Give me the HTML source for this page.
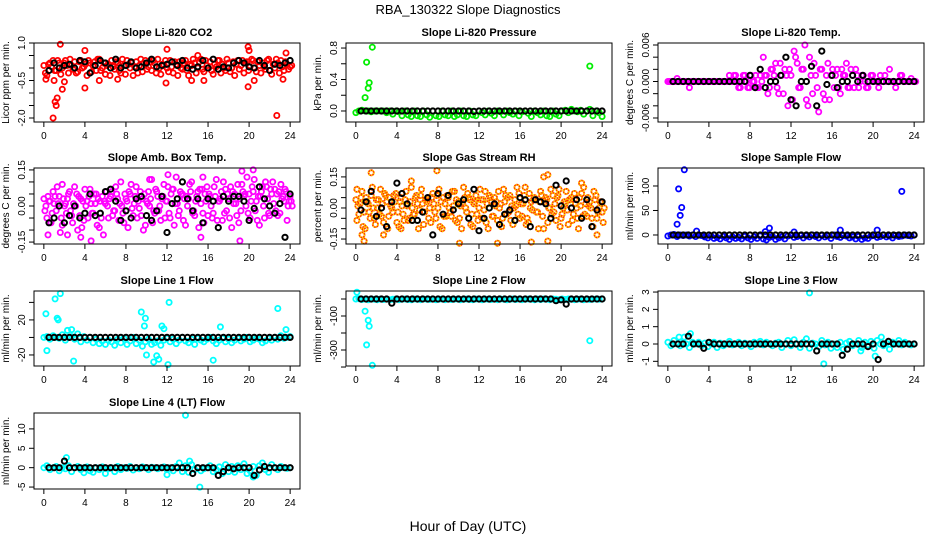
<!DOCTYPE html>
<html><head><meta charset="utf-8"><style>
html,body{margin:0;padding:0;background:#fff;}
svg text{font-family:"Liberation Sans",Arial,sans-serif;}
</style></head><body>
<svg id="chart" width="936" height="540" viewBox="0 0 936 540" xmlns="http://www.w3.org/2000/svg">
<text x="468" y="14" font-size="13" text-anchor="middle">RBA_130322  Slope Diagnostics</text>
<text x="468" y="531" font-size="14" text-anchor="middle">Hour of Day (UTC)</text>
</svg>
<script>
const xTicks=[0,4,8,12,16,20,24];
const co2Red=[0.1,-0.3,0.2,0.3,-0.1,0.2,0.0,0.3,-0.2,0.1,0.25,-0.15,0.3,0.05,-0.3,0.2,0.1,-0.1,0.35,0.0,-0.25,0.15,0.3,-0.05,0.2,-0.2,0.1,0.3,0.0,-0.3,0.25,0.1,-0.15,0.3,0.05,-0.1,0.2,0.35,-0.25,0.1,0.0,0.3,-0.2,0.15,0.25,-0.05,0.3,-0.3,0.1,0.2,0.0,0.35,-0.15,0.1,0.25,-0.25,0.05,0.3,0.15,-0.1,0.2,0.0,-0.3,0.3,0.1,-0.2,0.25,0.05,0.3,-0.15,0.1,0.2,-0.05,0.35,-0.25,0.0,0.2,0.3,-0.1,0.15,0.05];
const co2Red2=[-0.2,0.15,0.05,-0.1,0.3,-0.25,0.2,0.1,0.35,-0.05,-0.2,0.25,0.0,0.15,0.3,-0.15,0.25,0.35,-0.1,0.2,0.1,-0.3,0.05,0.25,-0.1,0.35,-0.25,0.15,0.2,0.05,-0.2,0.35,0.2,-0.05,0.25,0.3,-0.2,0.0,0.15,0.3,-0.15,0.05,0.25,-0.3,0.0,0.2,-0.1,0.15,0.35,-0.2,0.25,-0.05,0.3,0.0,-0.1,0.15,0.3,-0.2,0.0,0.35,-0.15,0.25,0.15,-0.05,0.3,0.2,-0.1,0.35,0.0,0.25,-0.2,0.05,0.3,-0.1,0.15,0.35,-0.2,0.05,0.25,-0.05,0.1];
const co2OutX=[0.9,1.1,1.2,1.3,1.6,1.8,0.2,1.0,2.0,4.0,4.0,12,11.9,14.4,15.0,15.6,19.9,20.0,19.9,20.5,22.7,23.3,23.6,7.2,5.4];
const co2OutY=[-2.0,-1.35,-1.5,-1.2,0.95,-0.85,-0.45,-0.5,-0.55,0.7,-0.8,0.75,-0.6,-0.5,0.5,-0.5,0.85,0.7,-0.75,-0.5,-1.9,-0.45,0.6,-0.45,-0.5];
const co2Black=[-0.1,0.2,0.0,0.1,0.15,0.0,0.3,0.25,-0.2,0.1,0.3,0.2,0.0,0.35,0.0,0.1,0.25,0.0,0.05,0.2,0.35,0.05,0.1,0.15,0.25,0.1,0.3,0.0,-0.05,0.05,0.3,0.0,0.35,-0.05,0.05,0.0,0.2,0.3,0.2,0.05,0.0,0.3,0.1,-0.1,0.15,0.1,0.2,0.3];
const presGreen=[-0.02,0.0,0.01,0.0,0.0,-0.01,0.0,0.0,0.0,0.0,-0.02,0.0,-0.04,0.0,-0.01,-0.06,0.0,-0.05,-0.07,0.0,-0.06,-0.07,0.0,-0.05,-0.08,0.0,-0.06,-0.07,0.0,-0.05,-0.06,0.0,-0.07,-0.05,0.0,-0.06,-0.07,0.0,-0.05,-0.06,0.0,-0.02,-0.05,0.0,-0.03,-0.06,0.0,-0.01,-0.05,0.0,-0.02,-0.04,0.0,-0.06,-0.01,0.0,-0.03,-0.07,0.0,-0.02,-0.05,0.0,-0.06,-0.07,0.0,-0.04,-0.06,0.0,0.01,-0.02,0.02,0.0,-0.01,0.01,-0.04,0.0,0.02,-0.06,0.0,-0.02,-0.07];
const presOutX=[0.9,1.05,1.2,1.3,1.6,22.8];
const presOutY=[0.17,0.62,0.29,0.36,0.81,0.57];
const presBlack=[0,0,0,0,0,0,0,0,0,0,0,0,0,0,0,0,0,0,0,0,0,0,-0.005,0,0,0,0,0,0,0,0,0,0,0,0,0,0,0,0,0,0,0,0,0,0,0,0,0];
const tempMag=[0,0,0,0.0005,0,0,0,-0.001,0,0,0,0,0,0,0,0,0,0,0,0,0.001,0,0.001,-0.001,0,0.001,-0.001,0.001,0,-0.001,0.001,0.004,0.001,-0.001,0.002,0.003,-0.002,0.001,0.002,-0.004,0.001,0.005,0.003,-0.001,0.002,-0.003,0.004,-0.002,0.001,-0.005,0.002,-0.003,0.003,0.001,-0.001,0.002,-0.002,0.001,0.003,-0.001,0.001,0.002,-0.001,0.001,0,-0.001,0.001,0,0,0.001,0,0,0.002,0,-0.001,0,0.001,0,0,0.0005,0];
const tempMag2=[0,0,0,0,0,0,0,0,0,0,0,0,0,0,0,0,0,0,0,0,0,0.001,0,-0.001,0.001,0,-0.001,0,0.001,-0.001,0,0.001,-0.002,0.002,0.001,-0.001,0.003,-0.002,0.001,0.002,-0.003,0.004,-0.001,0.002,0.006,-0.004,0.001,0.003,-0.001,0.002,-0.002,0.001,-0.003,0.002,0.001,-0.001,0.002,0.001,-0.001,0.002,-0.001,0.001,0,0.001,-0.001,0,0.001,0,-0.001,0,0.001,0,0,0,0,0.001,0,0,0,0,0];
const tempBlack=[0,0,0,0,0,0,0,0,0,0,0,0,0,0,0,0.001,-0.001,0.002,-0.001,0,0,0.001,0.004,-0.003,-0.004,0,0,0.0025,-0.004,0.005,-0.0005,0.001,-0.001,0,0,0.001,0,0.001,0,0,0,0,0,0,0,0,0,0];
const ambA=[0.03,-0.05,0.02,0.06,-0.02,0.04,-0.08,0.01,0.05,-0.04,0.08,-0.1,0.03,-0.06,0.02,0.07,-0.03,0.05,-0.09,0.04,0.01,-0.05,0.06,-0.02,0.03,0.1,-0.07,0.02,0.05,-0.04,0.08,-0.01,0.03,-0.08,0.06,0.11,-0.03,0.04,-0.06,0.09,0.02,-0.05,0.07,0.12,-0.02,0.05,-0.08,0.03,0.1,-0.04,0.06,0.01,-0.07,0.08,0.04,-0.03,0.11,0.02,-0.06,0.07,0.03,-0.09,0.05,0.09,-0.02,0.04,0.12,-0.05,0.06,0.02,-0.08,0.08,0.1,-0.03,0.05,0.07,-0.04,0.09,0.02,-0.06,0.04];
const ambB=[-0.02,0.04,-0.07,0.01,0.08,-0.11,0.03,-0.03,0.06,-0.07,0.0,0.04,-0.09,0.07,-0.05,0.01,0.05,-0.08,0.02,-0.12,0.06,0.03,-0.04,0.08,-0.06,0.0,0.05,-0.09,0.09,0.01,-0.05,0.06,-0.1,0.02,0.0,-0.07,0.07,-0.02,0.03,-0.05,0.08,0.05,-0.08,0.01,0.06,-0.06,0.04,0.09,-0.03,0.02,-0.09,0.07,0.05,-0.04,0.0,0.08,-0.06,0.03,0.1,-0.02,-0.05,0.06,0.01,-0.07,0.09,0.05,-0.03,0.02,0.11,-0.06,0.04,0.0,0.08,-0.04,0.1,-0.02,0.06,0.03,0.07,0.0,0.02];
const ambC=[0.0,0.02,-0.03,0.04,0.01,-0.05,0.0,0.03,-0.02,0.01,0.05,-0.04,0.02,0.0,0.04,-0.03,0.01,0.03,-0.05,0.02,0.0,0.04,-0.02,0.05,0.01,-0.03,0.03,0.06,-0.01,0.04,0.02,-0.04,0.05,0.01,0.03,-0.02,0.06,0.0,0.04,0.02,-0.03,0.07,0.01,-0.04,0.05,0.03,0.0,0.06,-0.02,0.04,0.07,-0.03,0.02,0.05,-0.05,0.04,0.02,0.06,-0.03,0.05,0.08,0.01,-0.04,0.03,0.06,0.0,0.05,0.08,-0.02,0.04,0.06,-0.05,0.03,0.07,0.01,0.05,-0.03,0.04,0.06,0.02,0.0];
const ambOutX=[0.4,2.3,3.6,4.6,15.3,19.1,19.3,20.4,15.5,12.1,1.8,10.3];
const ambOutY=[-0.12,-0.12,-0.13,-0.145,-0.13,-0.145,0.145,0.15,0.12,0.13,0.09,0.11];
const ambBlack=[-0.07,-0.05,0.0,-0.07,-0.04,0.0,-0.05,-0.03,0.05,-0.04,-0.03,0.06,0.07,0.02,-0.06,-0.02,-0.05,0.03,0.04,-0.04,-0.06,-0.02,0.04,-0.11,0.01,0.03,0.1,0.03,-0.02,0.03,-0.07,0.03,0.02,-0.09,0.04,0.02,0.04,0.04,0.02,-0.06,-0.01,0.08,0.03,0.0,-0.03,0.01,-0.13,0.05];
const rhA=[0.04,-0.03,0.08,-0.1,0.02,0.06,-0.05,0.0,0.09,-0.07,0.03,0.05,-0.02,0.07,-0.09,0.01,0.04,-0.06,0.1,-0.03,0.02,0.06,-0.08,0.03,0.0,0.07,-0.05,0.09,-0.1,0.02,0.05,-0.04,0.08,-0.07,0.01,0.1,-0.02,0.04,-0.09,0.06,0.0,-0.05,0.08,-0.1,0.03,0.05,-0.06,0.02,0.09,-0.03,0.06,-0.08,0.01,0.07,-0.04,0.1,-0.07,0.03,0.05,-0.02,0.08,-0.1,0.04,0.0,0.06,-0.06,0.09,-0.03,0.02,-0.08,0.05,0.07,-0.05,0.01,0.1,-0.04,0.03,-0.09,0.06,0.0,-0.02];
const rhB=[-0.06,0.02,-0.09,0.05,-0.02,0.1,-0.08,0.04,-0.04,0.07,-0.1,0.01,0.06,-0.07,0.03,-0.03,0.08,-0.05,0.0,0.05,-0.1,0.09,-0.02,0.04,-0.07,0.02,0.06,-0.09,0.05,-0.04,0.0,0.08,-0.06,0.03,-0.1,0.05,0.07,-0.08,0.02,-0.03,0.09,0.04,-0.07,0.06,-0.04,0.01,0.08,-0.09,0.03,0.05,-0.06,0.0,0.1,-0.05,0.02,-0.08,0.07,-0.01,0.04,-0.1,0.06,0.03,-0.07,0.09,-0.02,0.05,-0.09,0.0,0.08,0.04,-0.06,0.02,-0.1,0.07,-0.03,0.05,0.0,0.08,-0.05,0.03,-0.07];
const rhC=[0.01,0.05,-0.02,0.03,-0.05,0.0,0.04,-0.03,0.02,0.06,-0.04,0.0,0.03,-0.02,0.05,-0.06,0.01,0.03,-0.03,0.06,-0.01,0.02,0.04,-0.05,0.05,-0.02,0.0,0.03,-0.04,0.06,-0.02,0.01,0.04,-0.05,0.02,0.0,0.05,-0.03,0.03,-0.06,0.04,-0.01,0.02,0.05,-0.04,0.03,0.0,-0.05,0.06,-0.02,0.01,0.04,-0.03,0.02,0.06,-0.05,0.0,0.04,-0.02,0.03,-0.04,0.05,0.0,-0.03,0.02,0.06,-0.05,0.03,-0.01,0.04,-0.03,0.0,0.05,-0.04,0.02,0.01,-0.05,0.04,-0.02,0.03,0.0];
const rhOutX=[1.5,0.6,0.8,7.9,10.1,5.4,18.3,18.7,18.7,17.1,13.8,23.5,22,4.4,2.7,0.1];
const rhOutY=[0.17,-0.13,-0.16,0.18,-0.17,0.13,0.15,0.16,-0.16,-0.165,-0.17,-0.13,0.12,-0.1,-0.13,0.09];
const rhBlack=[-0.01,0.03,0.08,-0.04,0.0,-0.09,0.03,0.12,0.07,0.02,-0.06,-0.06,-0.02,0.05,-0.13,0.07,-0.03,0.06,-0.01,0.02,0.04,-0.05,0.09,-0.11,-0.05,0.0,0.02,-0.08,-0.03,-0.01,-0.06,0.05,0.04,-0.09,0.04,0.03,0.02,-0.05,0.11,0.01,0.13,0.0,0.04,-0.05,0.04,-0.09,-0.01,0.03];
const flowBlue=[-2,0,1,-3,0,-1,0,-2,0,-3,0,-1,-4,-6,-2,-7,-5,-8,-3,-6,-9,-4,-7,-5,-8,-3,-6,-9,-4,-7,-2,-8,-10,-5,-3,-9,-6,-4,-8,-2,0,-5,-3,-1,-6,-2,-4,0,-3,-6,-1,-4,-2,-7,0,-3,-5,-1,-2,-6,-4,-8,-3,-9,-6,-7,-2,-1,-5,-3,0,-4,-2,-6,-1,-3,-2,0,-1,-2,0];
const flowOutX=[0.9,1.05,1.2,1.35,1.6,22.8,2.8,9.9,16.8,20.4,9.5,12.3];
const flowOutY=[22,94,40,56,133,89,8,14,10,10,7,6];
const flowBlack=[0,0,0,0,0,0,0,0,0,0,0,0,0,0,0,0,0,0,0,0,0,0,0,0,0,0,0,0,0,0,0,0,0,0,0,0,0,0,0,0,0,0,0,0,0,0,0,0];
const l1Cyan=[0,1,-2,2,0,-1,3,-3,0,1,-2,4,-5,1,-3,0,-6,-2,-7,-4,-8,-3,-5,-9,-2,-6,-1,-8,-4,0,-7,-3,-10,-5,-2,-8,-6,-4,-9,-3,-1,-5,-2,-7,-3,0,-4,-6,-2,-8,-1,-3,-5,-2,0,-4,-7,-3,-1,-5,-2,-6,-3,-1,-4,-2,0,-5,-3,-1,-2,-6,-4,-1,-3,0,-2,2,-1,0,1];
const l1OutX=[0.2,0.3,1.1,1.3,1.4,1.6,2.9,9.5,9.9,9.8,10,10.7,11,11.2,11.5,11.7,12.1,12.2,16.5,17.2,22.8,23.6,2.3,2.7];
const l1OutY=[27,-15,44,22,20,50,-27,29,22,13,-20,-28,-21,-25,13,10,-31,40,-26,12,33,9,8,9];
const l1Black=[0,0,0,0,0,0,0,0,0,0,0,0,0,0,0,0,0,0,0,0,0,0,0,0,0,0,0,0,0,0,0,0,0,0,0,0,0,0,0,0,0,0,0,0,0,0,0,0];
const l2Cyan=[0,2,-3,0,-5,0,-2,-4,0,-3,0,-5,-2,0,-4,-1,0,-3,-5,0,-2,-4,0,-1,-3,0,-5,-2,0,-4,0,-3,-1,0,-5,-2,0,-3,-4,0,-1,-5,0,-2,-3,0,-4,0,-1,-5,-2,0,-3,0,-4,-1,0,-2,-5,0,-3,0,-1,-4,0,-2,-5,0,-3,0,-1,-4,-2,0,-5,0,-3,-1,0,-2,0];
const l2OutX=[0.1,0.9,1.05,1.2,1.3,1.6,22.8];
const l2OutY=[40,-72,-270,-125,-160,-390,-245];
const l2Black=[0,0,0,0,0,0,-25,0,0,0,0,0,0,0,0,0,0,0,0,0,0,0,0,0,0,0,0,0,0,0,0,0,0,0,0,0,0,0,-10,-5,-30,0,0,0,0,0,0,0];
const l3Cyan=[0.1,-0.1,0.2,0.0,-0.1,0.1,0.0,-0.2,0.1,0.0,0.1,-0.1,0.05,-0.15,0.0,0.1,-0.2,0.05,-0.1,0.0,0.15,-0.05,0.0,0.1,-0.1,0.05,0.0,-0.15,0.1,0.0,0.15,-0.05,0.1,0.0,-0.1,0.05,0.1,-0.2,0.0,0.2,-0.1,0.25,0.0,-0.2,0.1,0.3,-0.25,0.05,0.0,-0.15,0.2,-0.05,0.1,-0.25,0.0,-0.2,0.1,-0.3,0.05,0.15,-0.1,0.0,0.2,-0.2,0.1,-0.05,0.15,-0.25,0.2,0.0,-0.1,0.05,-0.3,0.1,0.0,0.2,-0.05,0.1,0.0,-0.05,0.0];
const l3OutX=[13.8,15.2,2.2,20.2,20.8,1.1,1.6,18.8];
const l3OutY=[2.95,-1.15,0.6,-0.7,0.4,0.4,0.4,-0.4];
const l3Black=[0,0,0,0.45,0,0,-0.25,0.1,0,0,0,0,0,0,0,0,0,0,0,0,0,0,0,0,0,0,0,0,-0.4,0,0,0,0,-0.65,-0.3,0,0,0,-0.15,0,-0.9,0,0.15,0,0,0,0,0];
const l4Cyan=[0,0.5,-0.5,0,0.3,-0.8,0,-0.3,0.5,-1,0,0.3,-0.5,0,0.2,-0.8,-1.2,0,-0.5,0.2,-1.5,-0.3,0,-1,0.3,-0.5,0,-0.2,0.3,-0.6,0,-0.3,0.2,0,-0.5,0.1,0,-0.3,0,0.2,-0.5,0,-0.8,0.3,1.2,-1,0.5,-1.2,0.8,-0.5,0,-0.8,-0.3,0,0.5,-1,-0.5,0.2,-1.5,0.8,-1,0.3,-1.2,0.5,-0.5,1,-1.5,-0.8,0.3,-2,0.5,1.2,-0.5,-1.2,0.8,0,-0.5,0.3,0,-0.2,0];
const l4OutX=[13.8,15.2,2.2,12,14.2,3.9,20.4];
const l4OutY=[13.5,-5,2.6,-1.8,1.7,-1.3,-2.4];
const l4Black=[0,0,0,1.7,0,0,0,0,0,0,0,0,0,0,0,0,0,0,0,0,0,0,0,0,0,0,0,0,-1.5,0,0,0,0,-2,-1,0,-0.3,0,0,0,-2,-0.6,0.3,0,0,0,0,0];

const NS='http://www.w3.org/2000/svg';
const svg=document.getElementById('chart');
const colBox=[[34,300],[346,612],[658,924]];
const rowBox=[[43,122],[168,244],[291,366],[413,489]];
function mk(tag,attrs,parent){const e=document.createElementNS(NS,tag);for(const k in attrs)e.setAttribute(k,attrs[k]);(parent||svg).appendChild(e);return e;}

const panels=[
 {name:'co2',title:'Slope Li-820 CO2',ylab:'Licor ppm per min.',c:0,r:0,ymin:-2.16,ymax:1.0,ticks:[-2,-1.5,-1,-0.5,0,0.5,1],labels:[[-2,'-2.0'],[-0.5,'-0.5'],[1,'1.0']],
  series:[{ys:co2Red,col:'#ff0000'},{ys:co2Red2,col:'#ff0000',off:0.15},{xs:co2OutX,ys:co2OutY,col:'#ff0000'},{ys:co2Black,col:'#000',black:true}]},
 {name:'pressure',title:'Slope Li-820 Pressure',ylab:'kPa per min.',c:1,r:0,ymin:-0.14,ymax:0.864,ticks:[0,0.2,0.4,0.6,0.8],labels:[[0,'0.0'],[0.4,'0.4'],[0.8,'0.8']],
  series:[{ys:presGreen,col:'#00ee00'},{xs:presOutX,ys:presOutY,col:'#00ee00'},{ys:presBlack,col:'#000',black:true}]},
 {name:'temp',title:'Slope Li-820 Temp.',ylab:'degrees C per min.',c:2,r:0,ymin:-0.00666,ymax:0.00633,ticks:[-0.006,-0.004,-0.002,0,0.002,0.004,0.006],labels:[[-0.006,'-0.006'],[0,'0.000'],[0.006,'0.006']],
  series:[{ys:tempMag,col:'#ff00ff'},{ys:tempMag2,col:'#ff00ff',off:0.15},{ys:tempBlack,col:'#000',black:true}]},
 {name:'amb-box',title:'Slope Amb. Box Temp.',ylab:'degrees C per min.',c:0,r:1,ymin:-0.158,ymax:0.158,ticks:[-0.15,-0.1,-0.05,0,0.05,0.1,0.15],labels:[[-0.15,'-0.15'],[0,'0.00'],[0.15,'0.15']],
  series:[{ys:ambA,col:'#ff00ff'},{ys:ambB,col:'#ff00ff',off:0.1},{ys:ambC,col:'#ff00ff',off:0.2},{xs:ambOutX,ys:ambOutY,col:'#ff00ff'},{ys:ambBlack,col:'#000',black:true}]},
 {name:'gas-rh',title:'Slope Gas Stream RH',ylab:'percent per min.',c:1,r:1,ymin:-0.174,ymax:0.193,ticks:[-0.15,-0.1,-0.05,0,0.05,0.1,0.15],labels:[[-0.15,'-0.15'],[0,'0.00'],[0.15,'0.15']],
  series:[{ys:rhA,col:'#ffa500',rh:true},{ys:rhB,col:'#ffa500',rh:true,off:0.1},{ys:rhC,col:'#ffa500',rh:true,off:0.2},{xs:rhOutX,ys:rhOutY,col:'#ffa500',rh:true},{ys:rhBlack,col:'#000',black:true}]},
 {name:'sample-flow',title:'Slope Sample Flow',ylab:'ml/min per min.',c:2,r:1,ymin:-18.4,ymax:136.7,ticks:[0,50,100],labels:[[0,'0'],[50,'50'],[100,'100']],
  series:[{ys:flowBlue,col:'#0000ff'},{xs:flowOutX,ys:flowOutY,col:'#0000ff'},{ys:flowBlack,col:'#000',black:true}]},
 {name:'line1',title:'Slope Line 1 Flow',ylab:'ml/min per min.',c:0,r:2,ymin:-32.6,ymax:53,ticks:[-20,0,20,40],labels:[[-20,'-20'],[20,'20']],
  series:[{ys:l1Cyan,col:'#00ffff'},{xs:l1OutX,ys:l1OutY,col:'#00ffff'},{ys:l1Black,col:'#000',black:true}]},
 {name:'line2',title:'Slope Line 2 Flow',ylab:'ml/min per min.',c:1,r:2,ymin:-394,ymax:47,ticks:[-400,-300,-200,-100,0],labels:[[-300,'-300'],[-100,'-100']],
  series:[{ys:l2Cyan,col:'#00ffff'},{xs:l2OutX,ys:l2OutY,col:'#00ffff'},{ys:l2Black,col:'#000',black:true}]},
 {name:'line3',title:'Slope Line 3 Flow',ylab:'ml/min per min.',c:2,r:2,ymin:-1.27,ymax:3.06,ticks:[-1,0,1,2,3],labels:[[-1,'-1'],[0,'0'],[1,'1'],[2,'2'],[3,'3']],
  series:[{ys:l3Cyan,col:'#00ffff'},{xs:l3OutX,ys:l3OutY,col:'#00ffff'},{ys:l3Black,col:'#000',black:true}]},
 {name:'line4',title:'Slope Line 4 (LT) Flow',ylab:'ml/min per min.',c:0,r:3,ymin:-5.5,ymax:14.1,ticks:[-5,0,5,10],labels:[[-5,'-5'],[0,'0'],[5,'5'],[10,'10']],
  series:[{ys:l4Cyan,col:'#00ffff'},{xs:l4OutX,ys:l4OutY,col:'#00ffff'},{ys:l4Black,col:'#000',black:true}]}
];

panels.forEach(p=>{
  const [L,R]=colBox[p.c],[T,B]=rowBox[p.r];
  const X=h=>L+(R-L)*(h+0.96)/25.92;
  const Y=v=>B-(B-T)*(v-p.ymin)/(p.ymax-p.ymin);
  const g=mk('g',{});
  
  
  const t=mk('text',{x:(L+R)/2,y:T-7,'font-size':11,'font-weight':'bold','text-anchor':'middle'},g);
  t.textContent=p.title;
  
  
  const pts=mk('g',{fill:'none'},g);
  
  
  p.series.forEach(s=>{
    s.ys.forEach((v,i)=>{
      const h=s.xs?s.xs[i]:(s.black?(i+1)*0.5:i*24/(s.ys.length-1)+(s.off||0));
      const cx=X(h),cy=Y(v);
      const c=mk('circle',{cx:cx.toFixed(1),cy:cy.toFixed(1),r:2.6,stroke:s.rh?'#ff3000':s.col,'stroke-width':s.black?2:1.8},pts);
      
      
      if(s.rh){const c2=mk('circle',{cx:cx.toFixed(1),cy:cy.toFixed(1),r:2.6,stroke:'#ffd000','stroke-width':1.8,'stroke-dasharray':'1.3 1.3'},pts);
        
        }
    });
  });
  const box=mk('rect',{x:L,y:T,width:R-L,height:B-T,fill:'none',stroke:'#000','stroke-width':1},g);
  
  
  const xa=mk('g',{},g);
  
  
  xTicks.forEach(h=>{
    mk('line',{x1:X(h),x2:X(h),y1:B,y2:B+5,stroke:'#000'},xa);
    const lt=mk('text',{x:X(h),y:B+17,'font-size':10,'text-anchor':'middle'},xa);
    lt.textContent=h;
    
    
  });
  const ya=mk('g',{},g);
  
  
  p.ticks.forEach(v=>mk('line',{x1:L-5,x2:L,y1:Y(v),y2:Y(v),stroke:'#000'},ya));
  p.labels.forEach(([v,s])=>{
    const lt=mk('text',{x:L-9,y:Y(v),'font-size':10,'text-anchor':'middle',transform:`rotate(-90 ${L-9} ${Y(v)})`},ya);
    lt.textContent=s;
    
    
  });
  const yl=mk('text',{x:L-25,y:(T+B)/2,'font-size':10,'text-anchor':'middle',transform:`rotate(-90 ${L-25} ${(T+B)/2})`},g);
  yl.textContent=p.ylab;
  
  
});
</script>
</body></html>
